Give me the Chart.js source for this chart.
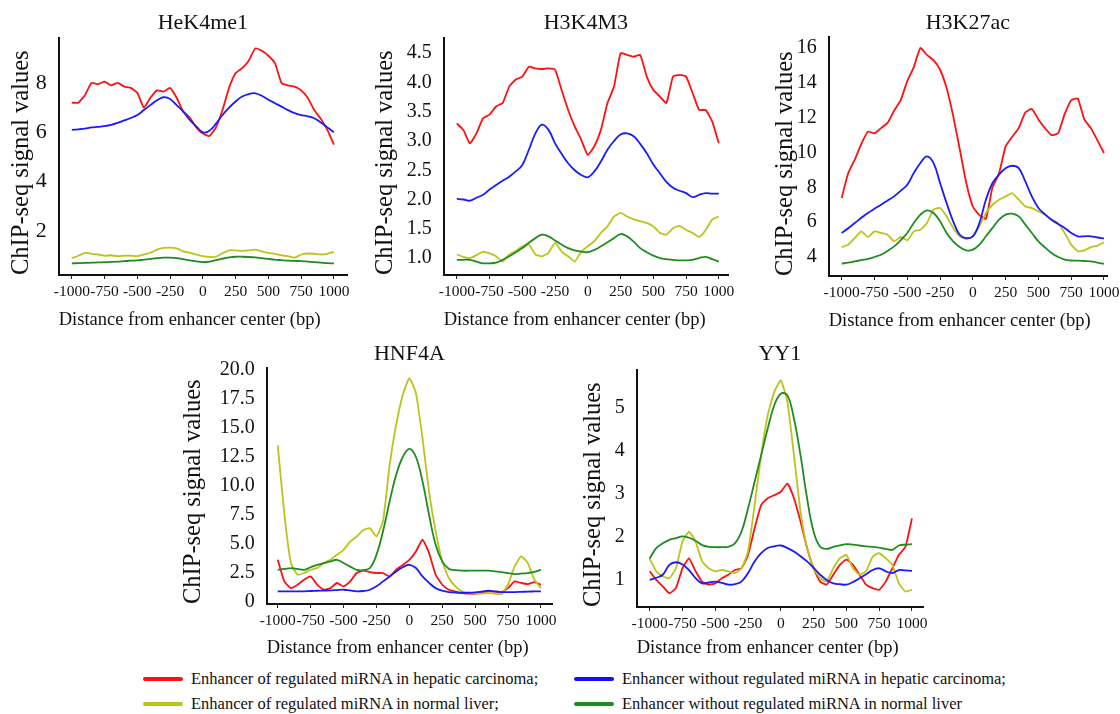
<!DOCTYPE html>
<html><head><meta charset="utf-8">
<script src="https://cdn.jsdelivr.net/npm/chart.js@4.4.1/dist/chart.umd.min.js"></script>
<style>
html,body{margin:0;padding:0;background:#fff;overflow:hidden;width:1120px;height:714px;}
body{position:relative;font-family:"Liberation Serif","Times New Roman",serif;}
canvas{position:absolute;}
.lg{position:absolute;display:flex;align-items:center;font-size:16.5px;color:#111;white-space:nowrap;height:20px;}
.sw{display:inline-block;width:40px;height:4px;margin-right:8px;border-radius:2px;}
</style></head><body>
<div id="root"></div>
<div class="lg" style="left:143px;top:669px"><span class="sw" style="background:#ff1010"></span>Enhancer of regulated miRNA in hepatic carcinoma;</div>
<div class="lg" style="left:574px;top:669px"><span class="sw" style="background:#1010ff"></span>Enhancer without regulated miRNA in hepatic carcinoma;</div>
<div class="lg" style="left:143px;top:694px"><span class="sw" style="background:#bcc41c"></span>Enhancer of regulated miRNA in normal liver;</div>
<div class="lg" style="left:574px;top:694px"><span class="sw" style="background:#1e8c1e"></span>Enhancer without regulated miRNA in normal liver</div>
<script>
// ---------- DATA ----------
const positions = [-1000,-950,-900,-850,-800,-750,-700,-650,-600,-550,-500,-450,-400,-350,-300,-250,-200,-150,-100,-50,0,50,100,150,200,250,300,350,400,450,500,550,600,650,700,750,800,850,900,950,1000];
const xTicks = [-1000,-750,-500,-250,0,250,500,750,1000];
const seriesNames = ["Enhancer of regulated miRNA in hepatic carcinoma;","Enhancer without regulated miRNA in hepatic carcinoma;","Enhancer of regulated miRNA in normal liver;","Enhancer without regulated miRNA in normal liver"];

// HeK4me1
const h3k4me1Red = [7.2,7.2,7.5,8.0,7.95,8.05,7.9,8.0,7.85,7.8,7.6,7.0,7.4,7.7,7.65,7.8,7.4,6.85,6.6,6.2,5.95,5.85,6.2,6.9,7.8,8.4,8.6,8.9,9.4,9.3,9.1,8.8,8.0,7.9,7.85,7.7,7.4,6.9,6.55,6.1,5.5];
const h3k4me1Blue = [6.1,6.12,6.15,6.2,6.22,6.25,6.3,6.38,6.48,6.58,6.7,6.9,7.1,7.3,7.42,7.35,7.1,6.84,6.5,6.24,6.0,6.06,6.35,6.7,7.0,7.25,7.45,7.55,7.58,7.48,7.32,7.18,7.04,6.9,6.78,6.7,6.65,6.57,6.4,6.2,6.0];
const h3k4me1Yellow = [0.9,1.0,1.12,1.08,1.05,1.0,1.02,0.98,1.0,1.0,0.98,1.05,1.12,1.25,1.32,1.33,1.3,1.18,1.12,1.05,0.98,0.95,0.96,1.1,1.22,1.22,1.2,1.22,1.25,1.18,1.12,1.08,1.02,0.98,0.92,1.05,1.09,1.08,1.05,1.08,1.16];
const h3k4me1Green = [0.69,0.7,0.71,0.72,0.73,0.74,0.75,0.76,0.78,0.8,0.81,0.84,0.87,0.9,0.92,0.92,0.9,0.86,0.81,0.77,0.74,0.76,0.82,0.88,0.93,0.96,0.96,0.95,0.93,0.9,0.87,0.84,0.82,0.8,0.79,0.78,0.76,0.74,0.72,0.7,0.69];
const h3k4me1YTicks = [2,4,6,8];

// H3K4M3
const h3k4m3Red = [3.3,3.19,2.96,3.13,3.39,3.45,3.59,3.65,3.93,4.05,4.1,4.27,4.24,4.23,4.24,4.22,3.87,3.53,3.25,3.02,2.76,2.91,3.19,3.65,3.93,4.5,4.47,4.44,4.47,4.1,3.87,3.76,3.65,4.1,4.13,4.1,3.82,3.53,3.53,3.33,2.96];
const h3k4m3Blue = [2.01,2.0,1.98,2.03,2.08,2.17,2.25,2.32,2.39,2.48,2.59,2.85,3.13,3.28,3.19,2.96,2.78,2.62,2.5,2.42,2.38,2.48,2.65,2.85,3.0,3.11,3.13,3.08,2.95,2.79,2.6,2.45,2.3,2.2,2.15,2.11,2.04,2.08,2.11,2.1,2.1];
const h3k4m3Yellow = [1.06,1.02,1.0,1.05,1.11,1.08,1.03,0.94,1.06,1.12,1.2,1.23,1.06,1.03,1.09,1.26,1.11,1.03,0.94,1.11,1.2,1.29,1.43,1.54,1.71,1.77,1.71,1.66,1.63,1.6,1.54,1.43,1.4,1.51,1.55,1.48,1.43,1.36,1.48,1.66,1.71];
const h3k4m3Green = [0.97,0.97,0.97,0.94,0.91,0.91,0.92,0.97,1.03,1.1,1.17,1.26,1.34,1.4,1.37,1.3,1.23,1.17,1.13,1.11,1.1,1.14,1.2,1.27,1.34,1.41,1.37,1.28,1.17,1.1,1.04,1.0,0.98,0.97,0.96,0.96,0.97,1.0,1.02,0.98,0.94];
const h3k4m3YTicks = [1.0,1.5,2.0,2.5,3.0,3.5,4.0,4.5];

// H3K27ac
const h3k27acRed = [7.39,8.82,9.59,10.5,11.2,11.1,11.4,11.7,12.4,13.0,14.1,14.9,16.0,15.6,15.3,14.75,13.7,12.1,10.2,8.25,6.9,6.4,6.2,8.0,8.8,10.35,10.9,11.4,12.3,12.5,11.9,11.4,11.0,11.1,12.2,13.0,13.1,11.9,11.4,10.7,9.97];
const h3k27acBlue = [5.38,5.65,5.95,6.25,6.53,6.77,7.0,7.24,7.48,7.8,8.15,8.82,9.4,9.78,9.4,8.25,7.1,6.05,5.28,5.09,5.19,5.95,7.3,8.25,8.73,9.1,9.24,9.1,8.34,7.48,6.81,6.45,6.14,5.9,5.67,5.38,5.19,5.19,5.19,5.12,5.07];
const h3k27acYellow = [4.57,4.71,5.09,5.47,5.15,5.47,5.38,5.28,4.9,5.15,4.96,5.47,5.57,5.95,6.72,6.81,6.33,5.67,5.19,5.03,5.19,5.76,6.53,7.0,7.29,7.48,7.67,7.29,6.9,6.81,6.62,6.43,6.14,5.95,5.38,4.71,4.33,4.38,4.57,4.65,4.84];
const h3k27acGreen = [3.62,3.68,3.75,3.82,3.89,4.0,4.13,4.35,4.61,4.97,5.38,5.95,6.43,6.68,6.53,6.05,5.38,4.9,4.57,4.38,4.42,4.71,5.19,5.67,6.14,6.43,6.49,6.33,5.86,5.38,4.9,4.55,4.23,4.0,3.85,3.8,3.79,3.77,3.75,3.68,3.6];
const h3k27acYTicks = [4,6,8,10,12,14,16];

// HNF4A
const hnf4aRed = [3.64,1.78,1.2,1.49,1.92,2.21,1.49,1.06,1.2,1.64,1.35,1.78,2.5,2.7,2.58,2.5,2.5,2.21,2.78,3.2,3.64,4.36,5.37,4.22,2.35,1.49,1.06,0.9,0.77,0.72,0.69,0.8,0.92,0.9,0.86,1.2,1.78,1.64,1.55,1.72,1.49];
const hnf4aBlue = [0.92,0.92,0.92,0.92,0.92,0.95,0.97,0.99,1.0,1.03,1.06,1.0,0.92,0.95,1.06,1.35,1.78,2.2,2.64,3.0,3.21,2.93,2.21,1.65,1.2,0.98,0.86,0.82,0.8,0.8,0.83,0.9,0.98,0.92,0.86,0.86,0.86,0.88,0.9,0.91,0.92];
const hnf4aYellow = [13.5,7.6,3.36,2.35,2.5,2.78,2.93,3.36,3.64,4.07,4.5,5.2,5.65,6.2,6.37,5.65,7.0,11.8,15.3,17.85,19.3,18.0,14.1,9.5,6.1,3.5,2.07,1.35,0.92,0.8,0.69,0.72,0.77,0.72,0.69,1.49,3.07,3.93,3.36,1.92,1.2];
const hnf4aGreen = [2.78,2.85,2.93,2.85,2.78,3.0,3.2,3.35,3.5,3.64,3.36,3.05,2.78,2.75,2.93,4.07,6.1,8.67,10.96,12.5,13.2,12.5,10.4,7.5,4.94,3.5,2.87,2.75,2.7,2.7,2.7,2.7,2.7,2.65,2.58,2.5,2.41,2.45,2.5,2.6,2.78];
const hnf4aYTicks = [0,2.5,5.0,7.5,10.0,12.5,15.0,17.5,20.0];

// YY1
const yy1Red = [1.2,1.0,0.85,0.69,0.81,1.27,1.5,1.2,0.96,0.89,0.92,1.04,1.12,1.23,1.27,1.58,2.2,2.74,2.9,2.97,3.05,3.24,2.9,2.36,1.74,1.27,0.96,0.89,1.12,1.35,1.47,1.35,1.12,0.89,0.81,0.77,0.96,1.27,1.58,1.77,2.43];
const yy1Blue = [1.0,1.05,1.12,1.35,1.41,1.36,1.23,1.04,0.92,0.94,0.96,0.93,0.89,0.9,0.96,1.16,1.43,1.62,1.74,1.78,1.8,1.74,1.66,1.55,1.43,1.28,1.12,1.0,0.92,0.9,0.89,0.95,1.04,1.13,1.23,1.27,1.2,1.16,1.23,1.22,1.21];
const yy1Yellow = [1.5,1.2,1.08,1.04,1.27,1.89,2.12,1.89,1.43,1.27,1.2,1.23,1.2,1.16,1.27,1.66,2.74,3.9,4.83,5.37,5.64,5.14,3.9,2.59,1.74,1.27,1.04,0.96,1.27,1.5,1.58,1.27,1.12,1.2,1.54,1.62,1.5,1.35,0.92,0.73,0.77];
const yy1Green = [1.5,1.74,1.85,1.93,1.97,2.01,1.98,1.91,1.81,1.77,1.76,1.76,1.77,1.85,2.12,2.66,3.28,3.9,4.52,5.06,5.33,5.29,4.75,3.9,2.9,2.12,1.77,1.72,1.77,1.8,1.83,1.82,1.8,1.78,1.77,1.75,1.72,1.7,1.8,1.82,1.83];
const yy1YTicks = [1,2,3,4,5];

// ---------- STYLE / LAYOUT ----------
const COLORS = {red:'#ff1010', blue:'#1a1aff', yellow:'#bcc41c', green:'#1e8c1e'};
const FONT = '"Liberation Serif","Times New Roman",serif';

const panels = [
  {title:'HeK4me1', red:h3k4me1Red, blue:h3k4me1Blue, yellow:h3k4me1Yellow, green:h3k4me1Green, yTicks:h3k4me1YTicks, fmt:v=>String(v),
   xmin:-1100, xmax:1100, ymin:0.22, ymax:9.82, aL:59, aR:347, aT:38, aB:275, ct:0, cb:335, titleY:23, yTitleX:22, xTitleY:320, yFont:22},
  {title:'H3K4M3', red:h3k4m3Red, blue:h3k4m3Blue, yellow:h3k4m3Yellow, green:h3k4m3Green, yTicks:h3k4m3YTicks, fmt:v=>v.toFixed(1),
   xmin:-1100, xmax:1070, ymin:0.71, ymax:4.76, aL:444, aR:728, aT:38, aB:275, ct:0, cb:335, titleY:23, yTitleX:386, xTitleY:320, yFont:20},
  {title:'H3K27ac', red:h3k27acRed, blue:h3k27acBlue, yellow:h3k27acYellow, green:h3k27acGreen, yTicks:h3k27acYTicks, fmt:v=>String(v),
   xmin:-1099, xmax:1023, ymin:2.91, ymax:16.63, aL:829, aR:1107, aT:37, aB:276, ct:0, cb:335, titleY:23, yTitleX:786, xTitleY:321, yFont:20},
  {title:'HNF4A', red:hnf4aRed, blue:hnf4aBlue, yellow:hnf4aYellow, green:hnf4aGreen, yTicks:hnf4aYTicks, fmt:v=>v===0?'0':v.toFixed(1),
   xmin:-1084, xmax:1084, ymin:-0.17, ymax:20.17, aL:267, aR:552, aT:368, aB:604, ct:338, cb:662, titleY:354, yTitleX:194, xTitleY:648, yFont:20},
  {title:'YY1', red:yy1Red, blue:yy1Blue, yellow:yy1Yellow, green:yy1Green, yTicks:yy1YTicks, fmt:v=>String(v),
   xmin:-1099, xmax:1084, ymin:0.37, ymax:5.88, aL:637, aR:923, aT:370, aB:607, ct:338, cb:662, titleY:354, yTitleX:594, xTitleY:648, yFont:20}
];

const root = document.getElementById('root');
const TITLE_SIZE = 22, YT_SIZE = 24.5, XT_SIZE = 18.5, XTICK_SIZE = 15.5;

panels.forEach(p => {
  const ytPadTop = 2;
  const CL = p.yTitleX - YT_SIZE*1.2/2 - ytPadTop;
  const pr = 22;
  const W = p.aR - CL + pr;
  const H = p.cb - p.ct;
  const yWidth = p.aL - CL;
  const xHeight = p.cb - p.aB;
  const tLH = TITLE_SIZE*1.2;
  const tPadTop = p.titleY - p.ct - tLH/2;
  const tPadBot = Math.max(0, (p.aT - p.ct) - tPadTop - tLH);
  const xtPadBot = p.cb - p.xTitleY - XT_SIZE*1.2/2;

  const cv = document.createElement('canvas');
  cv.width = Math.round(W); cv.height = H;
  cv.style.left = CL + 'px'; cv.style.top = p.ct + 'px';
  cv.style.width = Math.round(W) + 'px'; cv.style.height = H + 'px';
  root.appendChild(cv);

  const mk = (arr, color, label, tension) => ({
    label, data: positions.map((x,i)=>({x, y: arr[i]})),
    borderColor: color, backgroundColor: color, borderWidth: 1.8,
    pointRadius: 0, tension, fill: false
  });

  new Chart(cv.getContext('2d'), {
    type: 'line',
    data: { datasets: [
      mk(p.blue, COLORS.blue, seriesNames[1], 0.4),
      mk(p.green, COLORS.green, seriesNames[3], 0.4),
      mk(p.yellow, COLORS.yellow, seriesNames[2], 0.15),
      mk(p.red, COLORS.red, seriesNames[0], 0.15)
    ]},
    options: {
      responsive: false, animation: false, devicePixelRatio: 1,
      layout: { padding: {left:0, right:pr, top:0, bottom:0} },
      plugins: {
        legend: {display:false}, tooltip: {enabled:false},
        title: { display:true, text:p.title, fullSize:false, color:'#111',
          font:{family:FONT, size:TITLE_SIZE, weight:'normal'},
          padding:{top:tPadTop, bottom:tPadBot} }
      },
      scales: {
        x: {
          type:'linear', min:p.xmin, max:p.xmax,
          afterBuildTicks: s => { s.ticks = xTicks.map(v=>({value:v})); },
          afterFit: s => { s.height = xHeight; },
          grid: {display:true, drawOnChartArea:false, drawTicks:true, tickLength:4, color:'#222', lineWidth:1},
          border: {display:true, color:'#111', width:2},
          ticks: {autoSkip:false, maxRotation:0, minRotation:0, padding:4, color:'#111',
            font:{family:FONT, size:XTICK_SIZE}, callback: v => String(v)},
          title: {display:true, text:'Distance from enhancer center (bp)', align:'start', color:'#111',
            font:{family:FONT, size:XT_SIZE}, padding:{top:0, bottom:xtPadBot}}
        },
        y: {
          type:'linear', min:p.ymin, max:p.ymax,
          afterBuildTicks: s => { s.ticks = p.yTicks.map(v=>({value:v})); },
          afterFit: s => { s.width = yWidth; },
          grid: {display:false},
          border: {display:true, color:'#111', width:2},
          ticks: {padding:4, color:'#111', font:{family:FONT, size:p.yFont}, callback: v => p.fmt(v)},
          title: {display:true, text:'ChIP-seq signal values', align:'start', color:'#111',
            font:{family:FONT, size:YT_SIZE}, padding:{top:ytPadTop, bottom:0}}
        }
      }
    }
  });
});
</script>
</body></html>
